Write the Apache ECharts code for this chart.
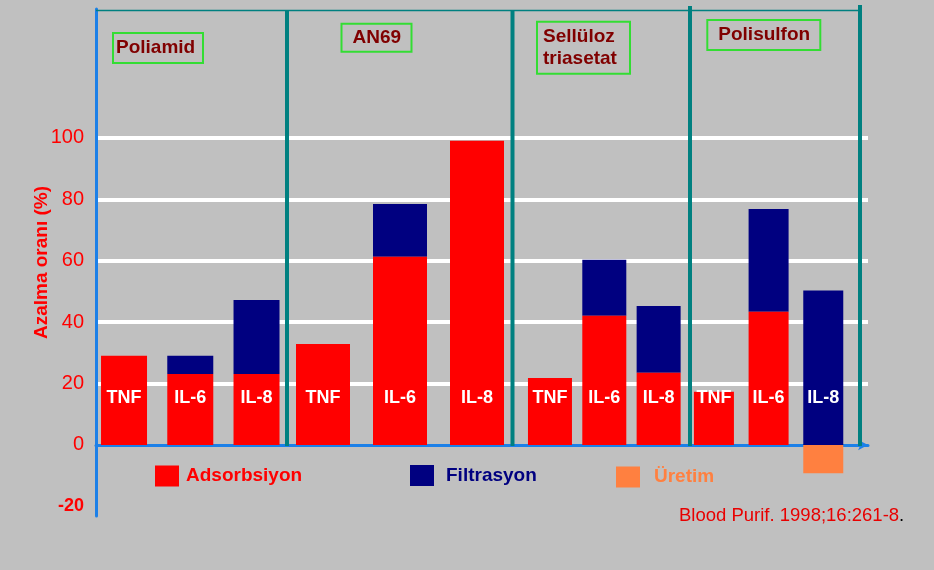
<!DOCTYPE html>
<html><head><meta charset="utf-8">
<script src="https://cdn.jsdelivr.net/npm/echarts@6/dist/echarts.min.js"></script>
<style>html,body{margin:0;padding:0;background:#c0c0c0;} #c{width:934px;height:570px;}</style>
</head><body><div id="c"></div>
<script>
// ---------- data ----------
const membranes = ['Poliamid', 'AN69', 'Sellüloz\ntriasetat', 'Polisulfon'];
const cytokines = ['TNF', 'IL-6', 'IL-8'];
const seriesNames = ['Adsorbsiyon', 'Filtrasyon', 'Üretim'];
// one row per membrane, values per cytokine (TNF, IL-6, IL-8), % reduction
const adsorbsiyon = [[29.1, 23.1, 23.1], [32.9, 61.3, 99.1], [21.8, 42.1, 23.5], [17.3, 43.4, 0]];
const filtrasyon  = [[0, 6.0, 24.1],     [0, 17.2, 0],      [0, 18.2, 21.8],   [0, 33.5, 50.3]];
const uretim      = [[0, 0, 0],          [0, 0, 0],         [0, 0, 0],         [0, 0, -9.2]];
const yTickLabels = [-20, 0, 20, 40, 60, 80, 100];
const yGridValues = [20, 40, 60, 80, 100];
const yAxisName = 'Azalma oranı (%)';
const citation = 'Blood Purif. 1998;16:261-8';

// ---------- layout / style ----------
const FONT = '"Liberation Sans", Arial, sans-serif';
const Y_MIN = -23.13, Y_MAX = 142.0;
const GRID_TOP = 9, GRID_H = 507;
const AXIS_BLUE = '#1c80e8';
const colors = ['#ff0000', '#000080', '#ff8040'];
const groupLayout = [
  { left: 90.9, width: 198.75, barWidth: 46 },
  { left: 284.5, width: 231, barWidth: 54 },
  { left: 522.8, width: 163, barWidth: 44 },
  { left: 686.6, width: 164, barWidth: 40 }
];
const titleLayout = [
  { left: 113, top: 33, padding: [5, 8, 5, 3], lineHeight: 20 },
  { left: 341, top: 23.3, padding: [4.5, 11, 4.5, 11.5], lineHeight: 20 },
  { left: 537, top: 21.7, padding: [4, 13, 4, 6], lineHeight: 22 },
  { left: 707.3, top: 19.3, padding: [5.7, 10, 5.7, 11], lineHeight: 20 }
];
const dividers = [{ x: 287, top: 10 }, { x: 512.5, top: 11 }, { x: 690, top: 6 }, { x: 860, top: 5 }];
const legendLayout = [
  { left: 155, top: 465.5, pad: 2 },
  { left: 410, top: 465, pad: 7 },
  { left: 616, top: 466.5, pad: 9 }
];
const valuesBySeries = [adsorbsiyon, filtrasyon, uretim];

const grids = [{ left: 96, top: GRID_TOP, width: 772, height: GRID_H, outerBoundsMode: 'none' }];
const xAxes = [{
  type: 'value', gridIndex: 0, min: 0, max: 1,
  axisLine: { show: true, onZero: true, symbol: ['none', 'arrow'], symbolSize: [8, 10],
              lineStyle: { color: AXIS_BLUE, width: 3 } },
  axisTick: { show: false }, axisLabel: { show: false }, splitLine: { show: false }
}];
const yAxes = [{
  type: 'value', gridIndex: 0, min: Y_MIN, max: Y_MAX,
  name: yAxisName, nameLocation: 'middle', nameGap: 45, nameMoveOverlap: false,
  nameTextStyle: { color: '#ff0000', fontSize: 19, fontWeight: 'bold', fontFamily: FONT },
  axisLine: { show: true, lineStyle: { color: AXIS_BLUE, width: 3 } },
  axisTick: { show: false, customValues: yGridValues },
  axisLabel: {
    customValues: yTickLabels, margin: 12, color: '#ff0000', fontSize: 20, fontFamily: FONT,
    formatter: v => (v < 0 ? '{b|' + v + '}' : String(v)),
    rich: { b: { color: '#ff0000', fontSize: 18, fontWeight: 'bold', fontFamily: FONT } }
  },
  splitLine: { show: true, lineStyle: { color: '#ffffff', width: 4 } }
}];
const series = [];
membranes.forEach((m, g) => {
  const L = groupLayout[g];
  grids.push({ left: L.left, top: GRID_TOP, width: L.width, height: GRID_H, outerBoundsMode: 'none' });
  xAxes.push({ type: 'category', gridIndex: g + 1, data: cytokines, show: false });
  yAxes.push({ type: 'value', gridIndex: g + 1, min: Y_MIN, max: Y_MAX, show: false });
  seriesNames.forEach((sn, s) => {
    series.push({
      type: 'bar', name: sn, xAxisIndex: g + 1, yAxisIndex: g + 1, stack: 'g' + g,
      data: valuesBySeries[s][g], barWidth: L.barWidth,
      itemStyle: { color: colors[s] }, z: s === 0 ? 4 : 3,
      label: s === 0 ? {
        show: true, position: 'insideBottom', distance: 38, formatter: '{b}',
        color: '#ffffff', fontSize: 18, fontWeight: 'bold', fontFamily: FONT
      } : { show: false }
    });
  });
});

const titles = membranes.map((m, i) => ({
  text: m, left: titleLayout[i].left, top: titleLayout[i].top, padding: titleLayout[i].padding,
  borderColor: '#33dd33', borderWidth: 2,
  textStyle: { color: '#800000', fontSize: 19, fontWeight: 'bold', fontFamily: FONT, lineHeight: titleLayout[i].lineHeight }
}));
titles.push({
  text: '{r|' + citation + '}{k|.}', left: 679, top: 506, padding: 0,
  textStyle: { fontWeight: 'normal', rich: {
    r: { color: '#e80000', fontSize: 18.5, fontWeight: 'normal', fontFamily: FONT },
    k: { color: '#000000', fontSize: 18.5, fontWeight: 'normal', fontFamily: FONT }
  } }
});

const legends = seriesNames.map((sn, i) => ({
  data: [{ name: sn, textStyle: { color: colors[i] } }],
  left: legendLayout[i].left, top: legendLayout[i].top, padding: 0,
  itemWidth: 24, itemHeight: 21, icon: 'rect', selectedMode: false,
  textStyle: { fontSize: 19, fontWeight: 'bold', fontFamily: FONT, padding: [0, 0, 0, legendLayout[i].pad] }
}));

const graphics = dividers.map(d => ({
  type: 'line', z: 10, silent: true,
  shape: { x1: d.x, y1: d.top, x2: d.x, y2: 446 },
  style: { stroke: '#008080', lineWidth: 4 }
}));
graphics.push({ type: 'line', z: 10, silent: true,
  shape: { x1: 96, y1: 10.5, x2: 860, y2: 10.5 }, style: { stroke: '#008080', lineWidth: 1.5 } });

const chart = echarts.init(document.getElementById('c'), null, { renderer: 'canvas' });
chart.setOption({
  backgroundColor: '#c0c0c0',
  animation: false,
  textStyle: { fontFamily: FONT },
  title: titles,
  legend: legends,
  grid: grids,
  xAxis: xAxes,
  yAxis: yAxes,
  series: series,
  graphic: graphics
});
</script>
</body></html>
